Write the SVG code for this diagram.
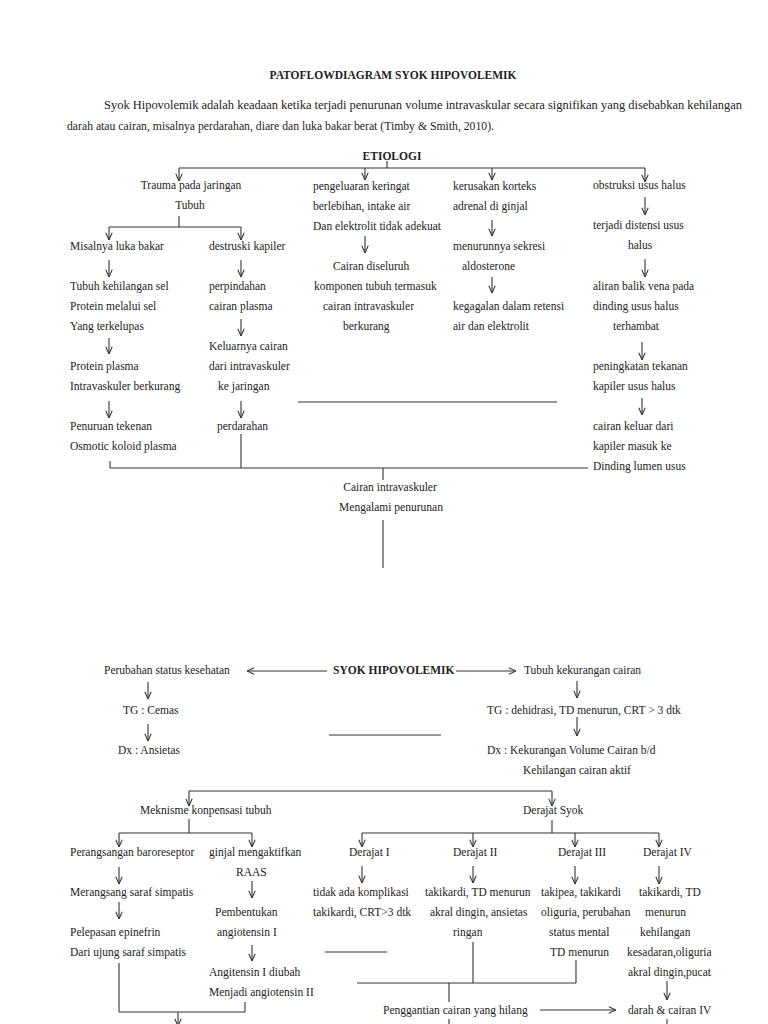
<svg xmlns="http://www.w3.org/2000/svg" width="768" height="1024" viewBox="0 0 768 1024">
<style>
text{font-family:"Liberation Serif","Times New Roman",serif;font-size:11.5px;fill:#222}
.b{font-weight:bold}
.c{text-anchor:middle}
.ln{stroke:#333;stroke-width:1.1;fill:none}
.ar{stroke:#333;stroke-width:1.1;fill:none;marker-end:url(#ah)}
</style>
<defs>
<marker id="ah" viewBox="0 0 10 10" refX="10" refY="5" markerWidth="8" markerHeight="8" markerUnits="userSpaceOnUse" orient="auto">
<path d="M1,1 L10,5 L1,9" fill="none" stroke="#333" stroke-width="1.3"/>
</marker>
</defs>
<rect width="768" height="1024" fill="#fff"/>

<g id="title"><text x="393" y="79" class="b c">PATOFLOWDIAGRAM SYOK HIPOVOLEMIK</text></g>
<g id="paragraph">
<text x="104" y="109" textLength="638" lengthAdjust="spacingAndGlyphs">Syok Hipovolemik adalah keadaan ketika terjadi penurunan volume intravaskular secara signifikan yang disebabkan kehilangan</text>
<text x="67" y="130" textLength="427" lengthAdjust="spacingAndGlyphs">darah atau cairan, misalnya perdarahan, diare dan luka bakar berat (Timby &amp; Smith, 2010).</text>
</g>
<g id="etiologi"><text x="392" y="160" class="b c">ETIOLOGI</text></g>

<g id="trauma"><text x="191" y="189" class="c">Trauma pada jaringan</text><text x="190" y="209" class="c">Tubuh</text></g>
<g id="luka-bakar"><text x="70" y="250">Misalnya luka bakar</text></g>
<g id="destruksi"><text x="209" y="250">destruski kapiler</text></g>
<g id="tubuh-kehilangan"><text x="70" y="290">Tubuh kehilangan sel</text><text x="70" y="310">Protein melalui sel</text><text x="70" y="330">Yang terkelupas</text></g>
<g id="perpindahan"><text x="209" y="290">perpindahan</text><text x="209" y="310">cairan plasma</text></g>
<g id="keluarnya"><text x="209" y="350">Keluarnya cairan</text><text x="209" y="370">dari intravaskuler</text><text x="218" y="390">ke jaringan</text></g>
<g id="protein-plasma"><text x="70" y="370">Protein plasma</text><text x="70" y="390">Intravaskuler berkurang</text></g>
<g id="penurunan"><text x="70" y="430">Penuruan tekenan</text><text x="70" y="450">Osmotic koloid plasma</text></g>
<g id="perdarahan"><text x="217" y="430">perdarahan</text></g>

<g id="pengeluaran"><text x="313" y="190">pengeluaran keringat</text><text x="313" y="210">berlebihan, intake air</text><text x="313" y="230">Dan elektrolit tidak adekuat</text></g>
<g id="cairan-diseluruh"><text x="333" y="270">Cairan diseluruh</text><text x="314" y="290">komponen tubuh termasuk</text><text x="323" y="310">cairan intravaskuler</text><text x="343" y="330">berkurang</text></g>

<g id="kerusakan"><text x="453" y="190">kerusakan korteks</text><text x="453" y="210">adrenal di ginjal</text></g>
<g id="sekresi"><text x="453" y="250">menurunnya sekresi</text><text x="462" y="270">aldosterone</text></g>
<g id="kegagalan"><text x="453" y="310">kegagalan dalam retensi</text><text x="453" y="330">air dan elektrolit</text></g>

<g id="obstruksi"><text x="593" y="189">obstruksi usus halus</text></g>
<g id="distensi"><text x="593" y="229">terjadi distensi usus</text><text x="628" y="249">halus</text></g>
<g id="aliran"><text x="593" y="290">aliran balik vena pada</text><text x="593" y="310">dinding usus halus</text><text x="613" y="330">terhambat</text></g>
<g id="peningkatan"><text x="593" y="370">peningkatan tekanan</text><text x="593" y="390">kapiler usus halus</text></g>
<g id="cairan-keluar"><text x="593" y="430">cairan keluar dari</text><text x="593" y="450">kapiler masuk ke</text><text x="593" y="470">Dinding lumen usus</text></g>

<g id="cairan-intravaskuler"><text x="390" y="491" class="c">Cairan intravaskuler</text><text x="391" y="511" class="c">Mengalami penurunan</text></g>

<g id="syok"><text x="333" y="674" class="b">SYOK HIPOVOLEMIK</text></g>
<g id="perubahan"><text x="104" y="674">Perubahan status kesehatan</text></g>
<g id="tg-cemas"><text x="123" y="714">TG : Cemas</text></g>
<g id="dx-ansietas"><text x="118" y="754">Dx : Ansietas</text></g>
<g id="tubuh-kekurangan"><text x="524" y="674">Tubuh kekurangan cairan</text></g>
<g id="tg-dehidrasi"><text x="487" y="714">TG : dehidrasi, TD menurun, CRT &gt; 3 dtk</text></g>
<g id="dx-kekurangan"><text x="487" y="754">Dx : Kekurangan Volume Cairan b/d</text><text x="523" y="774">Kehilangan cairan aktif</text></g>

<g id="mekanisme"><text x="140" y="814">Meknisme konpensasi tubuh</text></g>
<g id="baroreseptor"><text x="70" y="856">Perangsangan baroreseptor</text></g>
<g id="simpatis"><text x="70" y="896">Merangsang saraf simpatis</text></g>
<g id="epinefrin"><text x="70" y="936">Pelepasan epinefrin</text><text x="70" y="956">Dari ujung saraf simpatis</text></g>
<g id="raas"><text x="209" y="856">ginjal mengaktifkan</text><text x="236" y="876">RAAS</text></g>
<g id="pembentukan"><text x="215" y="916">Pembentukan</text><text x="217" y="936">angiotensin I</text></g>
<g id="angitensin"><text x="209" y="976">Angitensin I diubah</text><text x="209" y="996">Menjadi angiotensin II</text></g>

<g id="derajat-syok"><text x="523" y="814">Derajat Syok</text></g>
<g id="derajat-1"><text x="349" y="856">Derajat I</text><text x="313" y="896">tidak ada komplikasi</text><text x="313" y="916">takikardi, CRT&gt;3 dtk</text></g>
<g id="derajat-2"><text x="453" y="856">Derajat II</text><text x="425" y="896">takikardi, TD menurun</text><text x="430" y="916">akral dingin, ansietas</text><text x="453" y="936">ringan</text></g>
<g id="derajat-3"><text x="558" y="856">Derajat III</text><text x="541" y="896">takipea, takikardi</text><text x="541" y="916">oliguria, perubahan</text><text x="549" y="936">status mental</text><text x="550" y="956">TD menurun</text></g>
<g id="derajat-4"><text x="643" y="856">Derajat IV</text><text x="639" y="896">takikardi, TD</text><text x="645" y="916">menurun</text><text x="640" y="936">kehilangan</text><text x="627" y="956">kesadaran,oliguria</text><text x="628" y="976">akral dingin,pucat</text></g>
<g id="penggantian"><text x="383" y="1014">Penggantian cairan yang hilang</text></g>
<g id="darah"><text x="628" y="1014">darah &amp; cairan IV</text></g>

<g id="connectors">
<path class="ln" d="M387,161 V168 M179,168 H645"/>
<path class="ar" d="M179,168 V181"/>
<path class="ar" d="M365,168 V180"/>
<path class="ar" d="M492,168 V180"/>
<path class="ar" d="M645,168 V182"/>
<path class="ln" d="M179,216 V227 M109,227 H241"/>
<path class="ar" d="M109,227 V240"/>
<path class="ar" d="M241,227 V240"/>
<path class="ar" d="M109,260 V277"/>
<path class="ar" d="M241,260 V277"/>
<path class="ar" d="M241,319 V336"/>
<path class="ar" d="M109,338 V354"/>
<path class="ar" d="M109,401 V418"/>
<path class="ar" d="M241,401 V418"/>
<path class="ln" d="M110,461 V468 M241,434 V468 M110,468 H588 M383,468 V480"/>
<path class="ar" d="M365,236 V253"/>
<path class="ar" d="M492,220 V236"/>
<path class="ar" d="M492,277 V293"/>
<path class="ar" d="M645,197 V215"/>
<path class="ar" d="M645,259 V277"/>
<path class="ar" d="M642,342 V360"/>
<path class="ar" d="M642,398 V415"/>
<path class="ln" d="M298,402 H557"/>
<path class="ln" d="M383,520 V568"/>
<path class="ln" d="M329,735 H441"/>
<path class="ln" d="M325,952 H387"/>
<path class="ar" d="M327,671 H247"/>
<path class="ar" d="M456,671 H516"/>
<path class="ar" d="M148,682 V699"/>
<path class="ar" d="M148,724 V741"/>
<path class="ar" d="M577,681 V698"/>
<path class="ar" d="M577,717 V736"/>
<path class="ln" d="M189,791 H552"/>
<path class="ar" d="M189,791 V806"/>
<path class="ar" d="M552,791 V806"/>
<path class="ln" d="M189,819 V833 M119,833 H252"/>
<path class="ar" d="M119,833 V847"/>
<path class="ar" d="M252,833 V847"/>
<path class="ar" d="M119,867 V884"/>
<path class="ar" d="M252,881 V898"/>
<path class="ar" d="M119,902 V919"/>
<path class="ar" d="M252,945 V961"/>
<path class="ln" d="M119,963 V1012 M245,1002 V1012 M119,1012 H245"/>
<path class="ar" d="M178,1012 V1026"/>
<path class="ln" d="M552,820 V833 M362,833 H659"/>
<path class="ar" d="M362,833 V847"/>
<path class="ar" d="M473,833 V847"/>
<path class="ar" d="M575,833 V847"/>
<path class="ar" d="M659,833 V847"/>
<path class="ar" d="M362,866 V883"/>
<path class="ar" d="M473,866 V883"/>
<path class="ar" d="M575,866 V884"/>
<path class="ar" d="M659,866 V884"/>
<path class="ln" d="M473,942 V983 M576,960 V983 M357,983 H576 M449,983 V1002"/>
<path class="ar" d="M667,981 V1000"/>
<path class="ar" d="M540,1010 H616"/>
<path class="ln" d="M449,1019 V1024 M667,1019 V1024"/>
</g>
</svg>
